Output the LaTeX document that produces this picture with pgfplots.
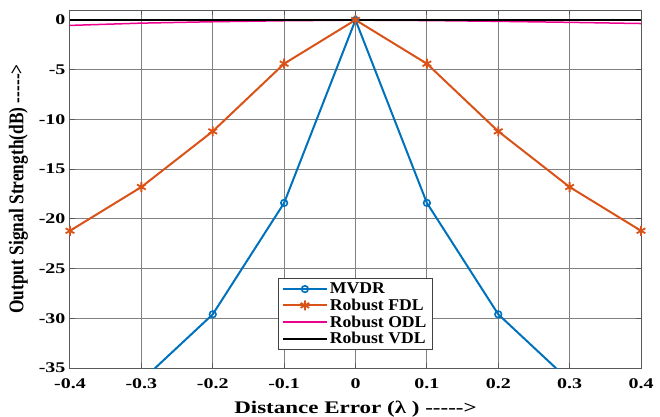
\documentclass[border=0pt]{standalone}
\usepackage{fontspec}
\setmainfont{Liberation Serif}
\newfontfamily\widefont{Liberation Serif}[FakeStretch=1.35]
\newfontfamily\labfont{Liberation Serif}[FakeStretch=1.3]
\newfontfamily\legfont{Liberation Serif}[FakeStretch=1.07]
\usepackage{pgfplots}
\pgfplotsset{compat=1.18}
\definecolor{mblue}{rgb}{0,0.447,0.741}
\definecolor{morange}{rgb}{0.85,0.325,0.098}
\begin{document}
\begin{tikzpicture}[x=1pt,y=1pt]
\begin{axis}[
  scale only axis,
  width=571pt, height=358pt,
  xmin=-0.4, xmax=0.4, ymin=-35, ymax=1,
  xtick={-0.4,-0.3,-0.2,-0.1,0,0.1,0.2,0.3,0.4},
  xticklabels={-0.4,-0.3,-0.2,-0.1,0,0.1,0.2,0.3,0.4},
  ytick={-35,-30,-25,-20,-15,-10,-5,0},
  yticklabels={-35,-30,-25,-20,-15,-10,-5,0},
  tick label style={font=\widefont\fontsize{14.8}{16}\selectfont\bfseries},
  xticklabel style={yshift=-7pt},
  yticklabel style={xshift=-1pt},
  grid=major,
  major grid style={draw=black!50, line width=1pt},
  axis line style={draw=black!65, line width=1pt},
  tick style={draw=black!65, line width=1pt},
  tick align=inside,
  major tick length=5pt,
  xlabel={Distance Error (λ ) -{}-{}-{}-{}->},
  ylabel={\scalebox{1}[1.2]{Output Signal Strength(dB) -{}-{}-{}-{}->}},
  xlabel style={font=\labfont\fontsize{17.7}{19}\selectfont\bfseries,
    at={(axis description cs:0.5,0)}, anchor=base, yshift=-45pt},
  ylabel style={font=\fontsize{17.4}{19}\selectfont\bfseries, yshift=4pt},
  legend style={at={(0.3634,0.2514)}, anchor=north west,
    font=\legfont\fontsize{16.5}{18}\selectfont\bfseries,
    draw=black!75, line width=0.8pt, inner xsep=4pt, inner ysep=2.5pt,
    row sep=-0.3pt, cells={anchor=west}},
  legend cell align=left,
  legend image code/.code={%
    \draw[mark repeat=2,mark phase=2] plot coordinates {(0pt,0pt) (22pt,0pt) (44pt,0pt)};},
  clip=true,
]
\addplot[mblue, line width=2pt, mark=o, mark size=3.3pt, mark options={line width=1.6pt}]
  coordinates {(-0.4,-42) (-0.3,-36.3) (-0.2,-29.6) (-0.1,-18.4) (0,0) (0.1,-18.4) (0.2,-29.6) (0.3,-36.3) (0.4,-42)};
\addlegendentry{MVDR}
\addplot[morange, line width=2pt, mark=asterisk, mark size=5pt, mark options={line width=1.8pt}]
  coordinates {(-0.4,-21.2) (-0.3,-16.8) (-0.2,-11.2) (-0.1,-4.4) (0,0) (0.1,-4.4) (0.2,-11.2) (0.3,-16.8) (0.4,-21.2)};
\addlegendentry{Robust FDL}
\addplot[magenta, line width=1.5pt]
  coordinates {(-0.4,-0.55) (-0.3,-0.32) (-0.2,-0.18) (-0.1,-0.08) (0,-0.02) (0.1,-0.06) (0.2,-0.14) (0.3,-0.24) (0.4,-0.36)};
\addlegendentry{Robust ODL}
\addplot[black, line width=2pt]
  coordinates {(-0.4,0) (-0.2,0) (0,0) (0.2,0) (0.4,0)};
\addlegendentry{Robust VDL}
\end{axis}
\pgfresetboundingbox
\path (-70pt,-48pt) rectangle (590pt,368pt);
\end{tikzpicture}
\end{document}
